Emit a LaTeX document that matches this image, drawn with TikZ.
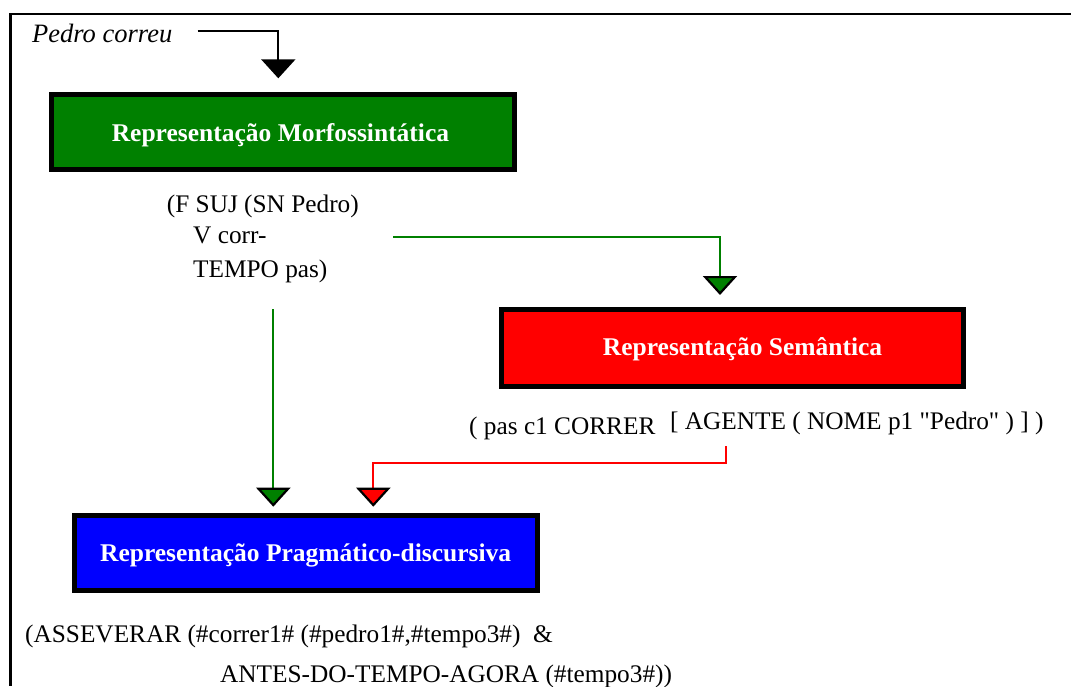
\documentclass[tikz,border=0pt]{standalone}
\usepackage{fontspec}
\setmainfont{Liberation Serif}[Ligatures=TeXOff]
\usetikzlibrary{arrows.meta}
\definecolor{morfogreen}{RGB}{0,128,0}
\definecolor{semred}{RGB}{255,0,0}
\definecolor{pragblue}{RGB}{0,0,255}
\begin{document}
\begin{tikzpicture}[x=1pt,y=-1pt,
  repbox/.style={draw=black, line width=5pt, rectangle, inner sep=0pt},
  reptitle/.style={anchor=base, inner sep=0pt, text=white,
    font=\fontsize{25.5}{30}\selectfont\bfseries},
  formula/.style={anchor=base west, inner sep=0pt,
    font=\fontsize{25.3}{30}\selectfont},
  flow/.style={line width=2.2pt},
  tip/.style={-{Triangle[width=34pt,length=19pt,color=black,fill=#1]}},
]
\useasboundingbox (0,0) rectangle (1071,686);

% frame (top and left rules)
\draw[line width=2.2pt, line join=miter] (1071,14) -- (10.5,14) -- (10.5,686);

% input sentence
\node[formula, font=\fontsize{26.5}{30}\selectfont\itshape] (input) at (32,42.3) {Pedro correu};

% the three representation levels
\node[repbox, fill=morfogreen, minimum width=463pt, minimum height=75pt] (morfo) at (283,131.7) {};
\node[reptitle] (morfoT) at (280.5,141.7) {Representação Morfossintática};

\node[repbox, fill=semred, minimum width=462pt, minimum height=77pt] (sem) at (732.5,348) {};
\node[reptitle] (semT) at (742.6,355) {Representação Semântica};

\node[repbox, fill=pragblue, minimum width=463pt, minimum height=75pt] (prag) at (305.5,552.7) {};
\node[reptitle] (pragT) at (305.6,561.7) {Representação Pragmático-discursiva};

% morphosyntactic structure
\node[formula] (m1) at (166.7,212.7) {(F SUJ (SN Pedro)};
\node[formula] (m2) at (193,243.3) {V corr-};
\node[formula] (m3) at (193,277) {TEMPO pas)};

% semantic structure
\node[formula] (s1) at (469,434) {( pas c1 CORRER};
\node[formula] (s2) at (670,429.5) {[ AGENTE ( NOME p1 "Pedro" ) ] )};

% pragmatic-discursive structure
\node[formula] (p1) at (25,642) {(ASSEVERAR (\#correr1\# (\#pedro1\#,\#tempo3\#)\ \ \&};
\node[formula] (p2) at (220,682) {ANTES-DO-TEMPO-AGORA (\#tempo3\#))};

% connector end points
\coordinate (inStart) at (197.7,31);
\coordinate (inTip) at (278.3,78.3);
\coordinate (vStart) at (393,236.7);
\coordinate (semIn) at (720,295);
\coordinate (morfoOut) at (273.3,309);
\coordinate (pragInA) at (273.3,506.7);
\coordinate (semOut) at (726,446);
\coordinate (pragInB) at (373.3,506.7);

% connectors
\draw[flow, tip=black] (inStart) -| (inTip);
\draw[flow, draw=morfogreen, tip=morfogreen] (vStart) -| (semIn);
\draw[flow, draw=morfogreen, tip=morfogreen] (morfoOut) -- (pragInA);
\draw[flow, draw=semred, tip=semred] (semOut) -- ++(0,17.3) -| (pragInB);
\end{tikzpicture}
\end{document}
